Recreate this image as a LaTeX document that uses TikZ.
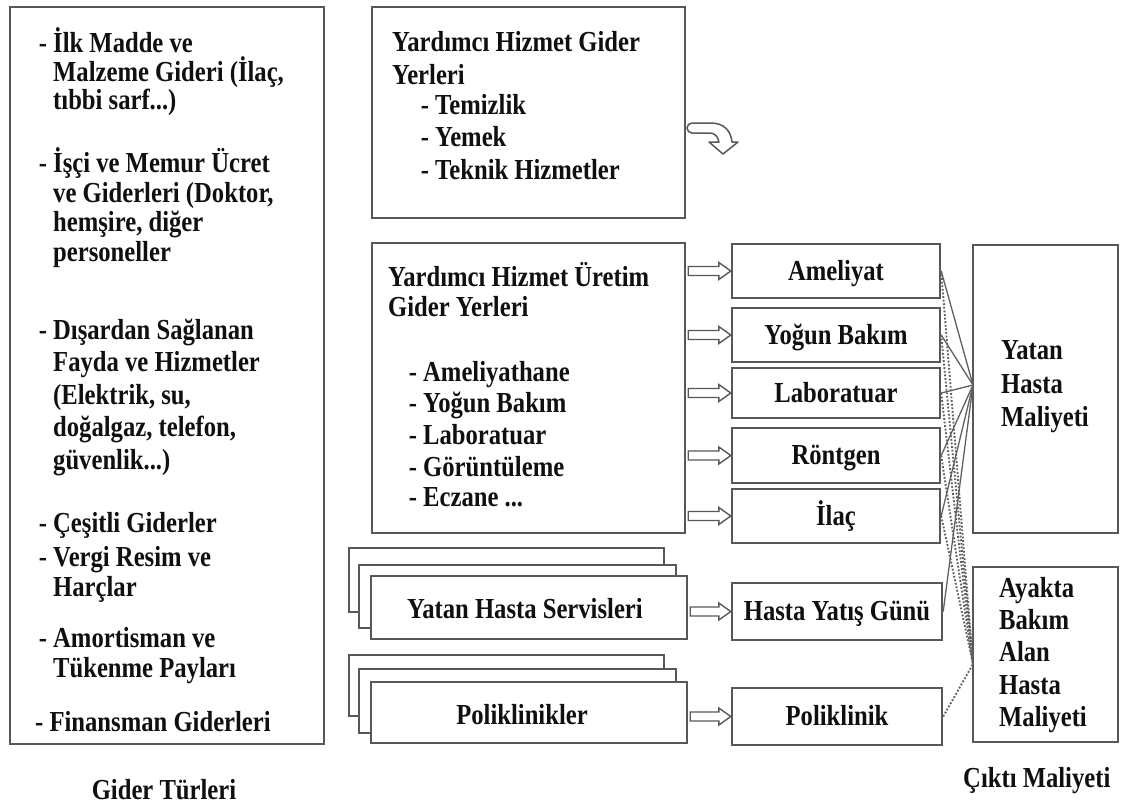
\documentclass[tikz,border=0pt]{standalone}
\usepackage{fontspec}
\setmainfont{Liberation Serif}[FakeStretch=0.85]
\usetikzlibrary{calc}
\definecolor{edge}{HTML}{585858}
\definecolor{ink}{HTML}{101010}
\definecolor{wire}{HTML}{606060}

\begin{document}
\begin{tikzpicture}[x=1pt,y=-1pt,
  every node/.style={font=\fontsize{29pt}{30pt}\selectfont\bfseries, text=ink, inner sep=0pt},
  box/.style={draw=edge, line width=2.4pt, fill=white, rectangle, text height=22pt, text depth=4pt},
  txt/.style={anchor=west, text height=22pt, text depth=4pt},
  harrow/.style={draw=edge, line width=1.4pt, fill=white, line join=miter, to path={
    let \p1=(\tikztostart), \p2=(\tikztotarget) in
    (\x1+2pt,\y1+4.5pt) -- (\x2-12pt,\y1+4.5pt) -- (\x2-12pt,\y1+8.5pt) -- (\x2,\y1)
    -- (\x2-12pt,\y1-8.5pt) -- (\x2-12pt,\y1-4.5pt) -- (\x1+2pt,\y1-4.5pt) -- cycle}},
  solidwire/.style={draw=wire, line width=1.3pt},
  dotwire/.style={draw=wire, line width=1.9pt, dash pattern=on 1.8pt off 1.8pt},
]
\useasboundingbox (0,0) rectangle (1126,807);

% ---- cost types column
\node[box, minimum width=314pt, minimum height=737pt] (gider) at (167,375.5) {};
\foreach \rowy/\rowtext [count=\k] in {
  43/{\llap{- }İlk Madde ve}, 72/{Malzeme Gideri (İlaç,}, 100/{tıbbi sarf...)},
  163/{\llap{- }İşçi ve Memur Ücret}, 193/{ve Giderleri (Doktor,}, 222/{hemşire, diğer}, 252/{personeller},
  330/{\llap{- }Dışardan Sağlanan}, 362/{Fayda ve Hizmetler}, 395/{(Elektrik, su,}, 427/{doğalgaz, telefon,}, 460/{güvenlik...)},
  523/{\llap{- }Çeşitli Giderler}, 557/{\llap{- }Vergi Resim ve}, 587/{Harçlar},
  638/{\llap{- }Amortisman ve}, 668/{Tükenme Payları}}
  \node[txt] (gl\k) at (53,\rowy) {\rowtext};
\node[txt] (glfin) at (35,722) {- Finansman Giderleri};
\node (gidercap) at (164,790) {Gider Türleri};

% ---- auxiliary service cost centres
\node[box, minimum width=313pt, minimum height=211pt] (yhgy) at (528.5,112.5) {};
\node[txt] (yh1) at (392,42) {Yardımcı Hizmet Gider};
\node[txt] (yh2) at (392,75) {Yerleri};
\foreach \rowy/\rowtext [count=\k] in {105/Temizlik, 137/Yemek, 170/Teknik Hizmetler}
  \node[txt] (yhs\k) at (435,\rowy) {\llap{- }\rowtext};

% curved hollow arrow beside it
\draw[draw=edge, line width=1.5pt, fill=white, line join=round]
  (692,123) -- (711,123) .. controls (724,123) and (731,131) .. (732,142)
  -- (738,142) -- (723,154) -- (709,142) -- (719,142)
  .. controls (718,137) and (715,133) .. (710,133) -- (692,133) arc (90:270:5) -- cycle;

% ---- auxiliary production cost centres
\node[box, minimum width=313pt, minimum height=290pt] (yhuy) at (528.5,388) {};
\node[txt] (yu1) at (388,277) {Yardımcı Hizmet Üretim};
\node[txt] (yu2) at (388,307) {Gider Yerleri};
\foreach \rowy/\rowtext [count=\k] in {372/{Ameliyathane}, 403/{Yoğun Bakım}, 435/{Laboratuar}, 467/{Görüntüleme}}
  \node[txt] (yus\k) at (423,\rowy) {\llap{- }\rowtext};
\node[txt] (yus5) at (423,497) {\llap{- }Eczane ...};

% ---- stacked service boxes
\node[box, minimum width=315pt, minimum height=64pt] (ysb) at (506.5,580) {};
\node[box, minimum width=317pt, minimum height=63pt] (ysm) at (517.5,596.5) {};
\node[box, minimum width=316pt, minimum height=63pt] (ysf) at (529,607.5) {};
\node (ystext) at (525,609) {Yatan Hasta Servisleri};

\node[box, minimum width=315pt, minimum height=61pt] (plb) at (506.5,685.5) {};
\node[box, minimum width=317pt, minimum height=64pt] (plm) at (517.5,701) {};
\node[box, minimum width=316pt, minimum height=61pt] (plf) at (529,712.5) {};
\node (pltext) at (522,715) {Poliklinikler};

% ---- output units
\node[box, minimum width=208pt, minimum height=54pt] (ame)  at (836,271)   {Ameliyat};
\node[box, minimum width=208pt, minimum height=54pt] (yb)   at (836,335)   {Yoğun Bakım};
\node[box, minimum width=208pt, minimum height=50pt] (lab)  at (836,393)   {Laboratuar};
\node[box, minimum width=208pt, minimum height=55pt] (ron)  at (836,455.5) {Röntgen};
\node[box, minimum width=208pt, minimum height=54pt] (ilac) at (836,516)   {İlaç};
\node[box, minimum width=210pt, minimum height=57pt] (hyg)  at (837,611.5) {Hasta Yatış Günü};
\node[box, minimum width=210pt, minimum height=57pt] (pol)  at (837,716.5) {Poliklinik};

% ---- output costs
\node[box, minimum width=145pt, minimum height=288pt] (yhm) at (1045.5,389) {};
\foreach \rowy/\rowtext [count=\k] in {350/Yatan, 384/Hasta, 417/Maliyeti}
  \node[txt] (yhm\k) at (1001,\rowy) {\rowtext};
\node[box, minimum width=145pt, minimum height=175pt] (abm) at (1045.5,654.5) {};
\foreach \rowy/\rowtext [count=\k] in {588/Ayakta, 620/Bakım, 652/Alan, 685/Hasta, 717/Maliyeti}
  \node[txt] (abm\k) at (999,\rowy) {\rowtext};
\node[txt] (cikti) at (963,778) {Çıktı Maliyeti};

% ---- hollow transfer arrows
\foreach \t in {ame, yb, lab, ron, ilac}
  \draw[harrow] (yhuy.east |- \t.west) to (\t.west);
\draw[harrow] (ysf.east |- hyg.west) to (hyg.west);
\draw[harrow] (plf.east |- pol.west) to (pol.west);

% ---- cost flows into output costs
\coordinate (yin) at (973,385);
\coordinate (ain) at (973,664);
\foreach \t in {ame, yb, lab, ron, ilac, hyg}
  \draw[solidwire] (\t.east) -- (yin);
\foreach \t in {ame, yb, lab, ron, ilac, pol}
  \draw[dotwire] (\t.east) -- (ain);
\end{tikzpicture}
\end{document}
